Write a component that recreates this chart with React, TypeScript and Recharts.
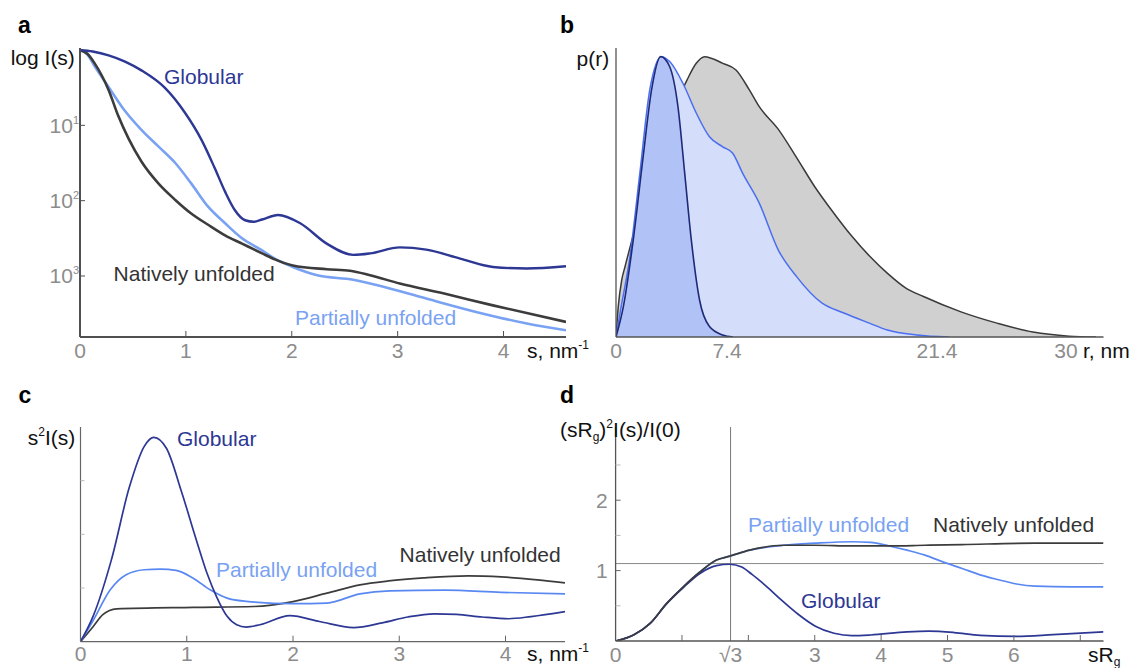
import React from 'react';
import { ComposedChart, Line, Area, XAxis, YAxis, ReferenceLine } from 'recharts';

type Pt = [number, number];

// ---------- Panel a: log I(s) (decades relative to I(0)) vs s, nm^-1
const aGlobular: Pt[] = [[0,0],[0.12,-0.02],[0.27,-0.07],[0.42,-0.15],[0.58,-0.27],[0.8,-0.5],[0.99,-0.83],[1.15,-1.2],[1.27,-1.56],[1.37,-1.88],[1.46,-2.12],[1.56,-2.26],[1.64,-2.28],[1.72,-2.25],[1.87,-2.19],[2.08,-2.3],[2.33,-2.57],[2.58,-2.72],[2.74,-2.7],[3.02,-2.62],[3.27,-2.65],[3.59,-2.77],[3.9,-2.88],[4.22,-2.9],[4.59,-2.87]];
const aPartial: Pt[] = [[0,0],[0.07,-0.06],[0.14,-0.22],[0.27,-0.49],[0.42,-0.8],[0.58,-1.06],[0.74,-1.28],[0.9,-1.5],[1.05,-1.77],[1.21,-2.08],[1.37,-2.3],[1.53,-2.5],[1.72,-2.66],[1.84,-2.77],[2.01,-2.88],[2.24,-2.99],[2.58,-3.05],[2.8,-3.12],[3.27,-3.3],[3.75,-3.48],[4.22,-3.63],[4.59,-3.72]];
const aNatively: Pt[] = [[0,0],[0.07,-0.05],[0.14,-0.18],[0.27,-0.53],[0.36,-0.87],[0.46,-1.18],[0.58,-1.48],[0.74,-1.77],[0.9,-1.99],[1.05,-2.17],[1.21,-2.32],[1.37,-2.46],[1.53,-2.57],[1.72,-2.7],[1.84,-2.78],[2.01,-2.86],[2.33,-2.91],[2.55,-2.93],[2.74,-2.99],[3.02,-3.1],[3.43,-3.23],[3.9,-3.39],[4.59,-3.61]];
const aXTicks = [0, 1, 2, 3, 4];
const aYTicks = [-1, -2, -3];
const aYTickExp = ['1', '2', '3'];

// ---------- Panel b: p(r) vs r, nm
const bGlobular: Pt[] = [[0,0],[0.49,0.105],[1.15,0.336],[1.81,0.624],[2.37,0.855],[2.98,0.97],[3.58,0.935],[4.13,0.797],[4.58,0.567],[5.02,0.336],[5.57,0.128],[6.23,0.036],[7.1,0.007],[7.8,0]];
const bPartial: Pt[] = [[0,0],[0.27,0.083],[0.93,0.278],[1.59,0.567],[2.25,0.855],[3.03,0.97],[3.58,0.953],[4.46,0.878],[5.35,0.775],[6.23,0.693],[7.12,0.658],[7.78,0.636],[8.44,0.567],[9.55,0.463],[10.83,0.3],[12.04,0.209],[13.74,0.117],[15.19,0.083],[16.89,0.048],[18.1,0.024],[20.04,0.007],[22.2,0]];
const bNatively: Pt[] = [[0,0],[0.15,0.105],[0.38,0.197],[0.6,0.243],[1.5,0.42],[2.5,0.6],[3.5,0.74],[4.2,0.83],[4.73,0.889],[5.35,0.947],[5.9,0.97],[7.12,0.947],[8.0,0.924],[8.89,0.855],[9.55,0.797],[10.8,0.72],[12.05,0.62],[13.25,0.52],[14.5,0.43],[15.7,0.35],[16.9,0.28],[18.1,0.22],[19.3,0.17],[20.5,0.14],[23.0,0.087],[25.4,0.048],[27.8,0.017],[30.2,0.003],[32.0,0]];
const bXTicks = [0, 7.4, 21.4, 30];
const bXTickLabels = ['0', '7.4', '21.4', '30'];

// ---------- Panel c: s^2 I(s) vs s, nm^-1
const cGlobular: Pt[] = [[0,0],[0.12,0.12],[0.29,0.38],[0.46,0.72],[0.6,0.91],[0.69,0.952],[0.81,0.9],[0.95,0.7],[1.09,0.474],[1.19,0.32],[1.28,0.21],[1.38,0.118],[1.47,0.079],[1.56,0.068],[1.69,0.079],[1.97,0.121],[2.25,0.094],[2.57,0.066],[2.84,0.088],[3.08,0.115],[3.33,0.13],[3.54,0.127],[3.78,0.115],[4.03,0.107],[4.24,0.117],[4.56,0.14]];
const cPartial: Pt[] = [[0,0],[0.12,0.1],[0.28,0.242],[0.43,0.312],[0.6,0.335],[0.75,0.338],[0.9,0.332],[1.06,0.296],[1.22,0.242],[1.38,0.203],[1.56,0.188],[2.0,0.177],[2.32,0.18],[2.63,0.223],[2.91,0.237],[3.43,0.24],[3.96,0.23],[4.56,0.223]];
const cNatively: Pt[] = [[0,0],[0.12,0.071],[0.21,0.126],[0.34,0.153],[1.06,0.16],[1.63,0.164],[2.0,0.187],[2.32,0.226],[2.63,0.265],[2.9,0.283],[3.23,0.297],[3.65,0.307],[3.96,0.302],[4.3,0.288],[4.56,0.274]];
const cXTicks = [0, 1, 2, 3, 4];
const cYTicks = [0.25, 0.5, 0.75];

// ---------- Panel d: (sRg)^2 I(s)/I(0) vs sRg
const dNatively: Pt[] = [[0,0],[0.27,0.085],[0.52,0.25],[0.77,0.535],[1.02,0.77],[1.27,0.98],[1.52,1.15],[1.72,1.205],[2.02,1.29],[2.53,1.36],[3.01,1.36],[3.56,1.35],[4.12,1.35],[4.66,1.36],[5.22,1.37],[6.32,1.39],[7.35,1.39]];
const dPartial: Pt[] = [[0,0],[0.27,0.085],[0.52,0.25],[0.77,0.535],[1.02,0.77],[1.27,0.98],[1.52,1.15],[1.72,1.205],[2.02,1.29],[2.53,1.36],[3.01,1.39],[3.56,1.41],[3.84,1.4],[4.12,1.35],[4.39,1.29],[4.66,1.22],[4.94,1.12],[5.22,1.03],[5.49,0.94],[5.77,0.87],[6.04,0.81],[6.32,0.78],[6.87,0.77],[7.35,0.77]];
const dGlobular: Pt[] = [[0,0],[0.27,0.085],[0.52,0.25],[0.77,0.53],[1.02,0.76],[1.27,0.96],[1.52,1.07],[1.72,1.09],[1.9,1.05],[2.05,0.95],[2.28,0.77],[2.5,0.58],[2.75,0.38],[3.01,0.21],[3.29,0.11],[3.56,0.075],[3.84,0.085],[4.39,0.13],[4.72,0.14],[5.1,0.12],[5.49,0.08],[6.04,0.065],[6.59,0.09],[7.35,0.13]];
const SQRT3 = Math.sqrt(3);
const dXTicks = [0, 1, 2, SQRT3, 3, 4, 5, 6, 7];
const dXLabelValues = [0, SQRT3, 3, 4, 5, 6];
const dXLabels = ['0', '√3', '3', '4', '5', '6'];
const dYTicks = [0.5, 1, 1.5, 2, 2.5];
const dYLabelValues = [1, 2];
const dRefY = 1.1;

const FONT = '"Liberation Sans", Arial, Helvetica, sans-serif';
const TICK_GRAY = '#8c8c8c';
const NAVY = '#2d3794';
const LIGHT = '#79a2f3';
const MID = '#5a88f2';
const DARK = '#3c3c3c';
const TEXT = '#111';

const pts = (a: Pt[]) => a.map(([x, y]) => ({ x, y }));

const near = (a: number, b: number) => Math.abs(a - b) < 1e-6;

function xTick(opts: { label: (v: number) => string | null; mark: (v: number) => boolean; markLen: number; dy: number; markColor: string }) {
  return (props: any) => {
    const { x, y, payload } = props;
    const v = payload.value as number;
    const label = opts.label(v);
    return (
      <g>
        {opts.mark(v) && <line x1={x} x2={x} y1={y} y2={y - opts.markLen} stroke={opts.markColor} strokeWidth={1} />}
        {label !== null && (
          <text x={x} y={y + opts.dy} textAnchor="middle" fill={TICK_GRAY} fontSize={21} fontFamily={FONT}>
            {label}
          </text>
        )}
      </g>
    );
  };
}

const xTickA = xTick({ label: (v) => String(v), mark: (v) => v !== 0, markLen: 6, dy: 21, markColor: '#505050' });
const xTickB = xTick({ label: (v) => { const i = bXTicks.findIndex((t) => near(t, v)); return i >= 0 ? bXTickLabels[i] : null; }, mark: () => false, markLen: 0, dy: 21, markColor: '#666' });
const xTickC = xTick({ label: (v) => String(v), mark: (v) => v !== 0, markLen: 6, dy: 19.5, markColor: '#666' });
const xTickD = xTick({
  label: (v) => { const i = dXLabelValues.findIndex((t) => near(t, v)); return i >= 0 ? dXLabels[i] : null; },
  mark: (v) => v !== 0 && !near(v, SQRT3), markLen: 6, dy: 21, markColor: '#666',
});

const yTickA = (p: any) => {
  const v = p.payload.value as number;
  const i = aYTicks.findIndex((t) => near(t, v));
  return (
    <g>
      <line x1={p.x} x2={p.x + 5} y1={p.y} y2={p.y} stroke="#505050" strokeWidth={1} />
      <text x={p.x - 1} y={p.y + 7.5} textAnchor="end" fill={TICK_GRAY} fontSize={21} fontFamily={FONT}>
        10<tspan fontSize={11} dy={-9}>{aYTickExp[i]}</tspan>
      </text>
    </g>
  );
};

const yTickC = (p: any) => (
  <g>
    <line x1={p.x} x2={p.x + 4} y1={p.y} y2={p.y} stroke="#bbb" strokeWidth={1} />
  </g>
);

const yTickD = (p: any) => {
  const v = p.payload.value as number;
  const lab = dYLabelValues.some((t) => near(t, v));
  return (
    <g>
      <line x1={p.x} x2={p.x + 5} y1={p.y} y2={p.y} stroke={lab ? '#666' : '#bbb'} strokeWidth={1} />
      {lab && (
        <text x={p.x - 8} y={p.y + 7.5} textAnchor="end" fill={TICK_GRAY} fontSize={21} fontFamily={FONT}>
          {String(v)}
        </text>
      )}
    </g>
  );
};

function PanelA() {
  const axis = { stroke: '#505050', strokeWidth: 2 };
  return (
    <div style={{ position: 'absolute', left: 0, top: 0 }}>
      <ComposedChart width={600} height={380} margin={{ top: 48, right: 34, bottom: 0, left: 0 }}>
        <XAxis type="number" dataKey="x" domain={[0, 4.59]} allowDataOverflow ticks={aXTicks} interval={0} tickLine={false} tickSize={0} tickMargin={0} height={43} axisLine={axis} tick={xTickA} />
        <YAxis type="number" dataKey="y" domain={[-3.81, 0.027]} allowDataOverflow ticks={aYTicks} interval={0} tickLine={false} tickSize={0} tickMargin={0} width={80} axisLine={axis} tick={yTickA} />
        <Line data={pts(aPartial)} dataKey="y" type="monotone" stroke={LIGHT} strokeWidth={2.6} dot={false} activeDot={false} isAnimationActive={false} />
        <Line data={pts(aNatively)} dataKey="y" type="monotone" stroke={DARK} strokeWidth={2.6} dot={false} activeDot={false} isAnimationActive={false} />
        <Line data={pts(aGlobular)} dataKey="y" type="monotone" stroke={NAVY} strokeWidth={2.4} dot={false} activeDot={false} isAnimationActive={false} />
      </ComposedChart>
    </div>
  );
}

function PanelB() {
  const axis = { stroke: '#555', strokeWidth: 1.3 };
  return (
    <div style={{ position: 'absolute', left: 560, top: 0 }}>
      <ComposedChart width={573} height={380} margin={{ top: 48, right: 29.5, bottom: 0, left: 0 }}>
        <XAxis type="number" dataKey="x" domain={[0, 32.5]} allowDataOverflow ticks={bXTicks} interval={0} tickLine={false} tickSize={0} tickMargin={0} height={43} axisLine={axis} tick={xTickB} />
        <YAxis type="number" dataKey="y" domain={[0, 1]} allowDataOverflow ticks={[]} tickLine={false} tick={false} width={56} axisLine={axis} />
        <Area data={pts(bNatively)} dataKey="y" type="monotone" stroke="#3a3a3a" strokeWidth={1.5} fill="#d0d0d0" fillOpacity={1} dot={false} activeDot={false} isAnimationActive={false} />
        <Area data={pts(bPartial)} dataKey="y" type="monotone" stroke="#4a6ef2" strokeWidth={1.5} fill="#d4ddf9" fillOpacity={1} dot={false} activeDot={false} isAnimationActive={false} />
        <Area data={pts(bGlobular)} dataKey="y" type="monotone" stroke="#1e2a78" strokeWidth={1.6} fill="#b1c3f6" fillOpacity={1} dot={false} activeDot={false} isAnimationActive={false} />
      </ComposedChart>
    </div>
  );
}

function PanelC() {
  const axis = { stroke: '#666', strokeWidth: 1.2 };
  return (
    <div style={{ position: 'absolute', left: 0, top: 380 }}>
      <ComposedChart width={600} height={288} margin={{ top: 47, right: 35, bottom: 0, left: 0 }}>
        <XAxis type="number" dataKey="x" domain={[0, 4.56]} allowDataOverflow ticks={cXTicks} interval={0} tickLine={false} tickSize={0} tickMargin={0} height={26.3} axisLine={axis} tick={xTickC} />
        <YAxis type="number" dataKey="y" domain={[0, 1]} allowDataOverflow ticks={cYTicks} interval={0} tickLine={false} tickSize={0} tickMargin={0} width={80.5} axisLine={axis} tick={yTickC} />
        <Line data={pts(cNatively)} dataKey="y" type="monotone" stroke={DARK} strokeWidth={1.7} dot={false} activeDot={false} isAnimationActive={false} />
        <Line data={pts(cPartial)} dataKey="y" type="monotone" stroke={MID} strokeWidth={1.7} dot={false} activeDot={false} isAnimationActive={false} />
        <Line data={pts(cGlobular)} dataKey="y" type="monotone" stroke={NAVY} strokeWidth={1.7} dot={false} activeDot={false} isAnimationActive={false} />
      </ComposedChart>
    </div>
  );
}

function PanelD() {
  const axis = { stroke: '#555', strokeWidth: 1.3 };
  return (
    <div style={{ position: 'absolute', left: 560, top: 380 }}>
      <ComposedChart width={573} height={288} margin={{ top: 47, right: 29.5, bottom: 0, left: 0 }}>
        <XAxis type="number" dataKey="x" domain={[0, 7.35]} allowDataOverflow ticks={dXTicks} interval={0} tickLine={false} tickSize={0} tickMargin={0} height={27} axisLine={axis} tick={xTickD} />
        <YAxis type="number" dataKey="y" domain={[0, 3.04]} allowDataOverflow ticks={dYTicks} interval={0} tickLine={false} tickSize={0} tickMargin={0} width={55.6} axisLine={axis} tick={yTickD} />
        <ReferenceLine x={SQRT3} stroke="#777" strokeWidth={1} />
        <ReferenceLine y={dRefY} stroke="#888" strokeWidth={1} />
        <Line data={pts(dPartial)} dataKey="y" type="monotone" stroke={MID} strokeWidth={1.7} dot={false} activeDot={false} isAnimationActive={false} />
        <Line data={pts(dGlobular)} dataKey="y" type="monotone" stroke={NAVY} strokeWidth={1.7} dot={false} activeDot={false} isAnimationActive={false} />
        <Line data={pts(dNatively)} dataKey="y" type="monotone" stroke={DARK} strokeWidth={1.7} dot={false} activeDot={false} isAnimationActive={false} />
      </ComposedChart>
    </div>
  );
}

function Overlay() {
  const t = { fontFamily: FONT, fontSize: 21 } as const;
  const sup = { fontSize: 12 } as const;
  return (
    <svg width={1133} height={668} style={{ position: 'absolute', left: 0, top: 0, pointerEvents: 'none' }}>
      {/* panel letters */}
      <text x={18} y={33} fontFamily={FONT} fontSize={23} fontWeight="bold" fill="#000">a</text>
      <text x={560} y={33} fontFamily={FONT} fontSize={23} fontWeight="bold" fill="#000">b</text>
      <text x={18.5} y={403} fontFamily={FONT} fontSize={23} fontWeight="bold" fill="#000">c</text>
      <text x={560} y={403} fontFamily={FONT} fontSize={23} fontWeight="bold" fill="#000">d</text>

      {/* panel a */}
      <text x={10.7} y={65} {...t} fill={TEXT}>log I(s)</text>
      <text x={164} y={84} {...t} fill={NAVY}>Globular</text>
      <text x={113.6} y={281} {...t} fill="#333">Natively unfolded</text>
      <text x={295} y={325} {...t} fill={LIGHT}>Partially unfolded</text>
      <text x={527} y={358} {...t} fill={TEXT}>s, nm<tspan {...sup} dy={-9}>-1</tspan></text>

      {/* panel b */}
      <text x={576.5} y={66} {...t} fill={TEXT}>p(r)</text>
      <text x={1083} y={358} {...t} fill={TEXT}>r, nm</text>

      {/* panel c */}
      <text x={27.7} y={445} {...t} fill={TEXT}>s<tspan {...sup} dy={-9}>2</tspan><tspan dy={9}>I(s)</tspan></text>
      <text x={177} y={446} {...t} fill={NAVY}>Globular</text>
      <text x={216} y={577} {...t} fill={LIGHT}>Partially unfolded</text>
      <text x={399.6} y={562} {...t} fill="#333">Natively unfolded</text>
      <text x={527} y={661} {...t} fill={TEXT}>s, nm<tspan {...sup} dy={-9}>-1</tspan></text>

      {/* panel d */}
      <text x={560} y={437} {...t} fill={TEXT}>(sR<tspan {...sup} dy={4}>g</tspan><tspan dy={-4}>)</tspan><tspan {...sup} dy={-9}>2</tspan><tspan dy={9}>I(s)/I(0)</tspan></text>
      <text x={748} y={532} {...t} fill={LIGHT}>Partially unfolded</text>
      <text x={933} y={532} {...t} fill="#333">Natively unfolded</text>
      <text x={801} y={608} {...t} fill={NAVY}>Globular</text>
      <text x={1088} y={662} {...t} fill={TEXT}>sR<tspan {...sup} dy={4}>g</tspan></text>
    </svg>
  );
}

export default function App() {
  return (
    <div style={{ position: 'absolute', left: 0, top: 0, width: 1133, height: 668, background: '#fff', overflow: 'hidden' }}>
      <PanelA />
      <PanelB />
      <PanelC />
      <PanelD />
      <Overlay />
    </div>
  );
}
